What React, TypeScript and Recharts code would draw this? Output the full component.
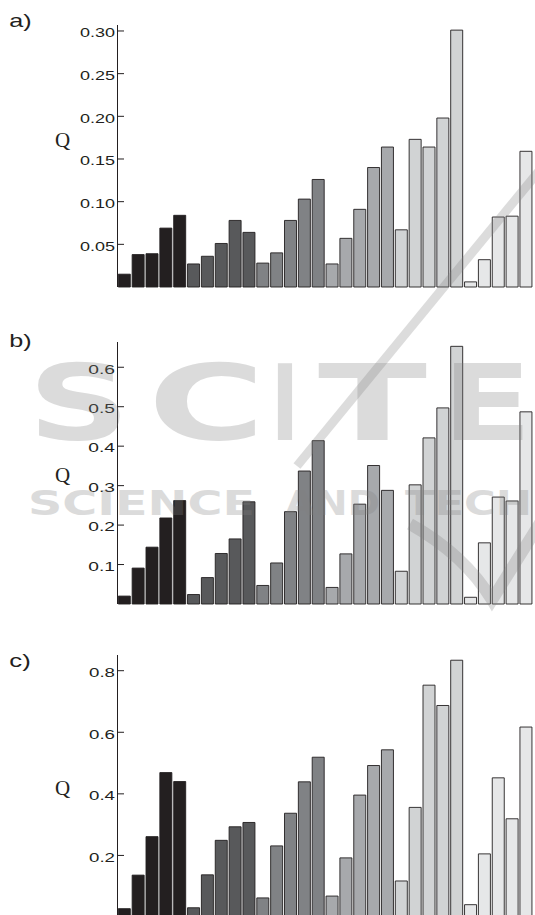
import { Bar, BarChart, Cell, XAxis, YAxis } from "recharts";

// 6 groups x 5 conditions
const categories = [
  "G1-1", "G1-2", "G1-3", "G1-4", "G1-5",
  "G2-1", "G2-2", "G2-3", "G2-4", "G2-5",
  "G3-1", "G3-2", "G3-3", "G3-4", "G3-5",
  "G4-1", "G4-2", "G4-3", "G4-4", "G4-5",
  "G5-1", "G5-2", "G5-3", "G5-4", "G5-5",
  "G6-1", "G6-2", "G6-3", "G6-4", "G6-5",
];

const qPanelA = [
  0.015, 0.038, 0.039, 0.069, 0.084,
  0.027, 0.036, 0.051, 0.078, 0.064,
  0.028, 0.040, 0.078, 0.103, 0.126,
  0.027, 0.057, 0.091, 0.140, 0.164,
  0.067, 0.173, 0.164, 0.198, 0.301,
  0.006, 0.032, 0.082, 0.083, 0.159,
];

const qPanelB = [
  0.020, 0.091, 0.144, 0.218, 0.262,
  0.024, 0.067, 0.128, 0.165, 0.259,
  0.047, 0.104, 0.234, 0.337, 0.414,
  0.042, 0.127, 0.253, 0.351, 0.288,
  0.083, 0.302, 0.421, 0.497, 0.653,
  0.017, 0.155, 0.271, 0.261, 0.487,
];

const qPanelC = [
  0.027, 0.136, 0.261, 0.469, 0.440,
  0.030, 0.137, 0.249, 0.293, 0.307,
  0.062, 0.231, 0.337, 0.439, 0.519,
  0.068, 0.192, 0.396, 0.492, 0.543,
  0.117, 0.356, 0.753, 0.687, 0.834,
  0.040, 0.205, 0.452, 0.319, 0.617,
];

const ticksA = [0.05, 0.1, 0.15, 0.2, 0.25, 0.3];
const ticksB = [0.1, 0.2, 0.3, 0.4, 0.5, 0.6];
const ticksC = [0.2, 0.4, 0.6, 0.8];

const groupColors = ["#231f20", "#58595b", "#808285", "#a7a9ac", "#d1d3d4", "#e6e7e8"];
const INK = "#231f20";
const SANS = "'Liberation Sans', Arial, sans-serif";
const SERIF = "'Liberation Serif', 'Times New Roman', serif";

const makeTick = (digits: number, len: number) => (props: any) => {
  const { x, y, payload } = props;
  return (
    <g>
      <line x1={x} x2={x + 6.5} y1={y} y2={y} stroke={INK} strokeWidth={1} />
      <text
        x={x - 2.5}
        y={y + 6.3}
        textAnchor="end"
        fontSize={12.6}
        fontFamily={SANS}
        fill={INK}
        textLength={len}
        lengthAdjust="spacingAndGlyphs"
      >
        {Number(payload.value).toFixed(digits)}
      </text>
    </g>
  );
};

function Panel({
  values,
  top,
  max,
  ticks,
  digits,
  labelLen,
}: {
  values: number[];
  top: number;
  max: number;
  ticks: number[];
  digits: number;
  labelLen: number;
}) {
  const data = categories.map((cat, i) => ({ cat, q: values[i] }));
  return (
    <div style={{ position: "absolute", left: 0, top }}>
      <BarChart
        width={535}
        height={292}
        data={data}
        margin={{ top: 25, right: 2, bottom: 5, left: 0 }}
        barCategoryGap={0.8}
        barGap={0}
      >
        <XAxis
          dataKey="cat"
          type="category"
          tick={false}
          tickLine={false}
          height={0}
          axisLine={{ stroke: INK, strokeWidth: 1.2 }}
        />
        <YAxis
          type="number"
          domain={[0, max]}
          ticks={ticks}
          width={117.5}
          tickSize={0}
          tickMargin={0}
          tickLine={false}
          tick={makeTick(digits, labelLen)}
          axisLine={{ stroke: INK, strokeWidth: 1 }}
        />
        <Bar dataKey="q" isAnimationActive={false} stroke={INK} strokeWidth={0.9}>
          {data.map((d, i) => (
            <Cell key={d.cat} fill={groupColors[Math.floor(i / 5)]} />
          ))}
        </Bar>
      </BarChart>
    </div>
  );
}

function Overlay() {
  const wm = { fill: "#808080", opacity: 0.28 };
  return (
    <svg
      width={535}
      height={915}
      style={{ position: "absolute", left: 0, top: 0, pointerEvents: "none" }}
    >
      {/* panel letters */}
      <text x={9.3} y={26.7} fontSize={18.5} fontFamily={SANS} fill={INK} textLength={22.4} lengthAdjust="spacingAndGlyphs">a)</text>
      <text x={9.3} y={346.5} fontSize={18.5} fontFamily={SANS} fill={INK} textLength={22.4} lengthAdjust="spacingAndGlyphs">b)</text>
      <text x={9.3} y={666.5} fontSize={18.5} fontFamily={SANS} fill={INK} textLength={21.4} lengthAdjust="spacingAndGlyphs">c)</text>
      {/* axis titles */}
      <text x={62.5} y={147.3} textAnchor="middle" fontSize={21} fontFamily={SERIF} fill={INK}>Q</text>
      <text x={62.5} y={482} textAnchor="middle" fontSize={21} fontFamily={SERIF} fill={INK}>Q</text>
      <text x={62.5} y={794.5} textAnchor="middle" fontSize={21} fontFamily={SERIF} fill={INK}>Q</text>
      {/* publisher watermark */}
      <g fontFamily="'DejaVu Sans', sans-serif" fontWeight="bold" {...wm}>
        <text x={28} y={440} fontSize={105} textLength={102} lengthAdjust="spacingAndGlyphs">S</text>
        <text x={148} y={440} fontSize={105} textLength={117} lengthAdjust="spacingAndGlyphs">C</text>
        <text x={271} y={440} fontSize={105} textLength={28} lengthAdjust="spacingAndGlyphs">I</text>
        <text x={318} y={440} fontSize={105} textLength={109} lengthAdjust="spacingAndGlyphs">T</text>
        <text x={442} y={440} fontSize={105} textLength={90} lengthAdjust="spacingAndGlyphs">E</text>
        <text x={28} y={515} fontSize={34} textLength={227} lengthAdjust="spacingAndGlyphs">SCIENCE</text>
        <text x={285} y={515} fontSize={34} textLength={95} lengthAdjust="spacingAndGlyphs">AND</text>
        <text x={405} y={515} fontSize={34} textLength={127} lengthAdjust="spacingAndGlyphs">TECH</text>
      </g>
      <g stroke="#808080" strokeOpacity={0.28} fill="none" strokeLinecap="butt">
        <line x1={548} y1={160} x2={297} y2={466} strokeWidth={9} />
        <path d="M 410 524 Q 465 555 492 600 L 545 515" strokeWidth={12} />
      </g>
    </svg>
  );
}

export default function App() {
  return (
    <div
      style={{
        position: "absolute",
        left: 0,
        top: 0,
        width: 535,
        height: 915,
        overflow: "hidden",
        background: "#ffffff",
      }}
    >
      <Panel values={qPanelA} top={0} max={0.307} ticks={ticksA} digits={2} labelLen={35} />
      <Panel values={qPanelB} top={317} max={0.664} ticks={ticksB} digits={1} labelLen={26.7} />
      <Panel values={qPanelC} top={630} max={0.851} ticks={ticksC} digits={1} labelLen={26} />
      <Overlay />
    </div>
  );
}
